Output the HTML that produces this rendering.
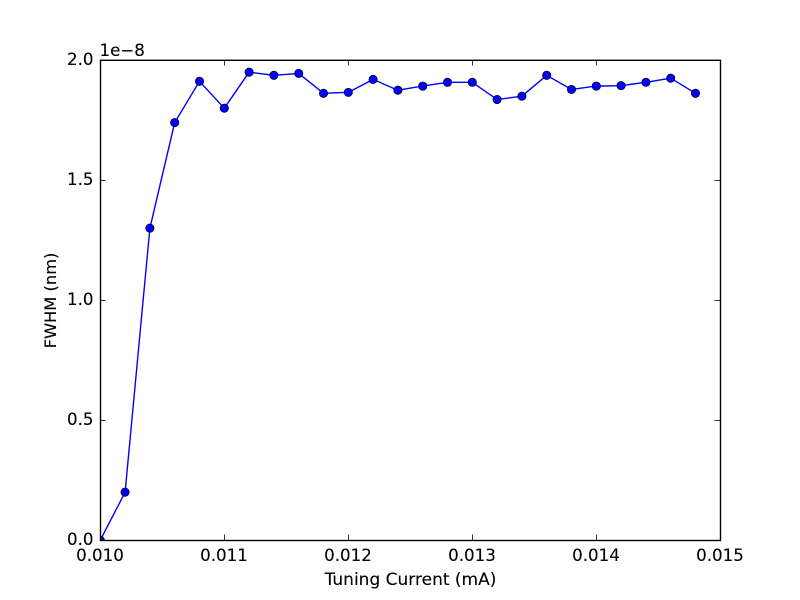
<!DOCTYPE html>
<html lang="en">
<head>
<meta charset="utf-8">
<title>FWHM vs Tuning Current</title>
<style>
html,body{margin:0;padding:0;background:#fff;}
svg{display:block;}
text{font-family:"DejaVu Sans",sans-serif;font-size:16.67px;fill:#000;stroke:#000;stroke-width:0.1px;}
</style>
</head>
<body>
<svg id="chart" xmlns="http://www.w3.org/2000/svg" width="800" height="600" viewBox="0 0 800 600">
<rect x="0" y="0" width="800" height="600" fill="#fff"/>
<defs><clipPath id="plot-clip"><rect x="100" y="60" width="620.5" height="480.5"/></clipPath></defs>
<g id="series" clip-path="url(#plot-clip)" transform="translate(0.3 0.2)"></g>
<g id="ticks"></g>
<rect x="100.5" y="60.3" width="620" height="480.2" fill="none" stroke="#000" stroke-width="1.4"/>
<text x="99.5" y="56">1e−8</text>
<text x="410.5" y="585" text-anchor="middle" style="font-size:17px">Tuning Current (mA)</text>
<text x="0" y="0" text-anchor="middle" transform="translate(56 300.5) rotate(-90)" style="font-size:16.3px">FWHM (nm)</text>
</svg>
<script>
const currents = [0.0100,0.0102,0.0104,0.0106,0.0108,0.0110,0.0112,0.0114,0.0116,0.0118,0.0120,0.0122,0.0124,0.0126,0.0128,0.0130,0.0132,0.0134,0.0136,0.0138,0.0140,0.0142,0.0144,0.0146,0.0148];
const fwhm = [0,0.2,1.30,1.74,1.912,1.80,1.95,1.937,1.945,1.862,1.866,1.92,1.875,1.892,1.908,1.908,1.836,1.85,1.937,1.878,1.892,1.894,1.908,1.925,1.862];
const xTicks = [0.010,0.011,0.012,0.013,0.014,0.015];
const xTickLabels = ["0.010","0.011","0.012","0.013","0.014","0.015"];
const yTicks = [0,0.5,1.0,1.5,2.0];
const yTickLabels = ["0.0","0.5","1.0","1.5","2.0"];

const NS = 'http://www.w3.org/2000/svg';
const xDomain = [0.010, 0.015];
const yDomain = [0, 2.0];
const plot = {left: 100, right: 720, top: 60, bottom: 540};
function xScale(v) {
  return plot.left + (v - xDomain[0]) / (xDomain[1] - xDomain[0]) * (plot.right - plot.left);
}
function yScale(v) {
  return plot.bottom - (v - yDomain[0]) / (yDomain[1] - yDomain[0]) * (plot.bottom - plot.top);
}
function make(tag, attrs, parent) {
  const el = document.createElementNS(NS, tag);
  for (const k in attrs) el.setAttribute(k, attrs[k]);
  parent.appendChild(el);
  return el;
}

const seriesGroup = document.getElementById('series');
const ticksGroup = document.getElementById('ticks');
const svgRoot = document.getElementById('chart');

const line = make('polyline', {
  points: currents.map((c, i) => xScale(c) + ',' + yScale(fwhm[i])).join(' '),
  fill: 'none', stroke: '#0000ff', 'stroke-width': 1.39, 'stroke-linejoin': 'round'
}, seriesGroup);



currents.forEach((c, i) => {
  const pt = make('circle', {
    cx: xScale(c), cy: yScale(fwhm[i]), r: 4.17,
    fill: '#0000ff', stroke: '#000', 'stroke-width': 0.7
  }, seriesGroup);
  
  
});

xTicks.forEach((t, i) => {
  const x = xScale(t);
  const sx = Math.round(x) + 0.5;
  [[plot.bottom, plot.bottom - 5.5], [plot.top, plot.top + 5.5]].forEach(([a, b]) => {
    const tick = make('line', {x1: sx, x2: sx, y1: a, y2: b, stroke: '#000', 'stroke-width': 0.8}, ticksGroup);
    
    
  });
  const label = make('text', {x: x, y: 561, 'text-anchor': 'middle'}, svgRoot);
  label.textContent = xTickLabels[i];
  
  
});

yTicks.forEach((t, i) => {
  const y = yScale(t);
  const sy = Math.round(y) + 0.5;
  [[plot.left, plot.left + 5.5], [plot.right, plot.right - 5.5]].forEach(([a, b]) => {
    const tick = make('line', {x1: a, x2: b, y1: sy, y2: sy, stroke: '#000', 'stroke-width': 0.8}, ticksGroup);
    
    
  });
  const label = make('text', {x: 93.5, y: y + 5, 'text-anchor': 'end'}, svgRoot);
  label.textContent = yTickLabels[i];
  
  
});
</script>
</body>
</html>
